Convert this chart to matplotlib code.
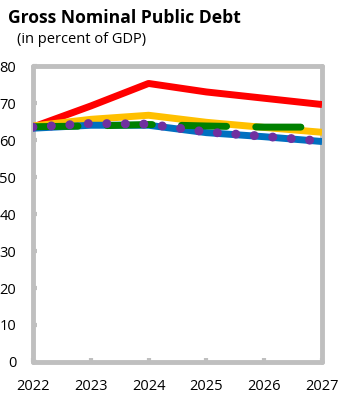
import matplotlib
matplotlib.use("Agg")
import matplotlib.pyplot as plt

years = [2022, 2023, 2024, 2025, 2026, 2027]
red = [63.5, 69.2, 75.3, 73.0, 71.3, 69.6]
yellow = [63.8, 65.6, 66.7, 64.8, 63.4, 62.1]
blue = [63.2, 64.0, 64.0, 62.0, 60.9, 59.6]
green = [63.6, 63.8, 64.2, 63.8, 63.5, 63.5]
purple = [63.5, 64.5, 64.3, 62.2, 61.0, 59.7]
yticks = [0, 10, 20, 30, 40, 50, 60, 70, 80]

plt.rcParams['font.family'] = ['Open Sans', 'DejaVu Sans']
fig = plt.figure(figsize=(3.39, 3.98), dpi=100)
ax = fig.add_axes([0.097, 0.0905, 0.853, 0.7435])

ax.plot(years, red, color='#FF0000', lw=5, solid_capstyle='butt', zorder=3)
ax.plot(years, yellow, color='#FFC000', lw=5, solid_capstyle='butt', zorder=3)
ax.plot(years, blue, color='#0070C0', lw=5, solid_capstyle='butt', zorder=3)
ax.plot(years, green, color='#008000', lw=5, dashes=(6.5, 4.2), dash_capstyle='round', zorder=4)
ax.plot(years, purple, color='#7030A0', lw=6.5, linestyle=(0, (0.001, 2.05)), dash_capstyle='round', zorder=5)

ax.set_xlim(2022, 2027)
ax.set_ylim(0, 80)
ax.set_yticks(yticks)
ax.set_xticks(years)
ax.tick_params(axis='y', direction='in', length=3, width=3, color='#BFBFBF', labelsize=10.5, pad=12)
ax.tick_params(axis='x', direction='in', length=3, width=3, color='#BFBFBF', labelsize=10.5, pad=12)
for s in ax.spines.values():
    s.set_color('#BFBFBF')
    s.set_linewidth(3.5)
    s.set_capstyle('round')

fig.text(0.024, 0.955, 'Gross Nominal Public Debt', fontsize=12.6, fontweight='bold', ha='left', va='center')
fig.text(0.05, 0.9, '(in percent of GDP)', fontsize=10.5, ha='left', va='center')

fig.savefig('out.png', dpi=100)
